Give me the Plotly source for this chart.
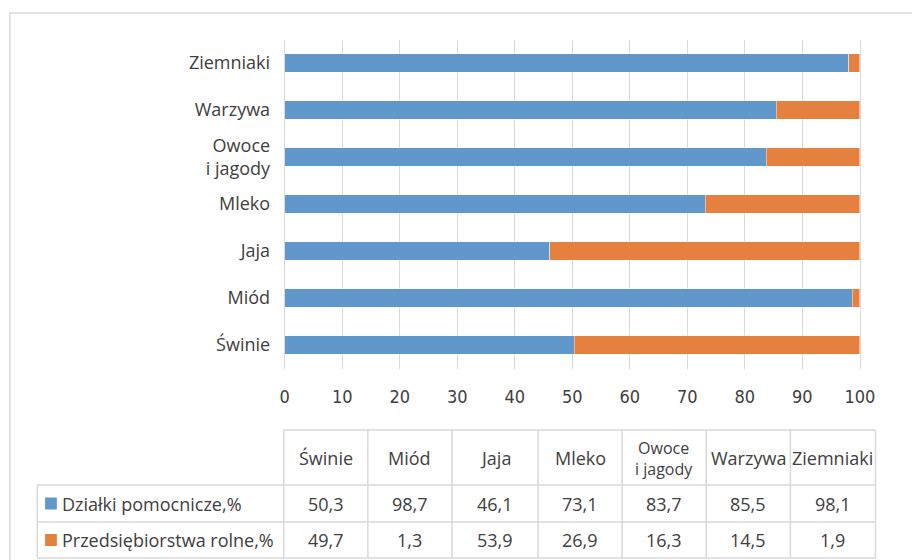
import plotly.graph_objects as go

# ---- data ----
categories = ["Świnie", "Miód", "Jaja", "Mleko", "Owoce i jagody", "Warzywa", "Ziemniaki"]
category_labels = ["Świnie", "Miód", "Jaja", "Mleko", "Owoce<br>i jagody", "Warzywa", "Ziemniaki"]
series_names = ["Działki pomocnicze,%", "Przedsiębiorstwa rolne,%"]
dzialki = [50.3, 98.7, 46.1, 73.1, 83.7, 85.5, 98.1]
przedsiebiorstwa = [49.7, 1.3, 53.9, 26.9, 16.3, 14.5, 1.9]
x_ticks = [0, 10, 20, 30, 40, 50, 60, 70, 80, 90, 100]

BLUE = "#6198CB"
ORANGE = "#E5803F"
GRID = "#d9d9d9"
TXT = "#404040"
FONT = "Open Sans"

W, H = 912, 560
def px(x):
    return x / W
def py(y):
    return 1 - y / H

fig = go.Figure()
for name, vals, col in [(series_names[0], dzialki, BLUE), (series_names[1], przedsiebiorstwa, ORANGE)]:
    fig.add_trace(go.Bar(
        y=categories, x=vals, name=name, orientation="h",
        marker=dict(color=col, line=dict(color="rgba(255,255,255,0.45)", width=1)),
        showlegend=False,
    ))

fig.update_layout(
    width=W, height=H,
    margin=dict(l=0, r=0, t=0, b=0),
    paper_bgcolor="white", plot_bgcolor="white",
    barmode="stack", bargap=0.6,
    font=dict(family=FONT, color=TXT, size=18),
    xaxis=dict(
        domain=[px(286), px(874)], range=[0, 100],
        tickvals=x_ticks, ticktext=[str(v) for v in x_ticks],
        showgrid=True, gridcolor=GRID, gridwidth=1,
        zeroline=False, showline=False, ticks="",
        tickfont=dict(family="Liberation Sans Narrow, DejaVu Sans Condensed, Open Sans", size=18, color=TXT),
        ticklabelstandoff=15,
    ),
    yaxis=dict(
        domain=[py(368.5), py(39.5)],
        categoryorder="array", categoryarray=categories,
        tickvals=categories, ticktext=category_labels,
        showgrid=False, zeroline=False,
        showline=True, mirror=True, linecolor=GRID, linewidth=1,
        ticks="", tickfont=dict(family=FONT, size=18, color=TXT),
        ticklabelstandoff=10,
    ),
)

shapes = []
# outer frame
shapes.append(dict(type="rect", xref="paper", yref="paper",
                   x0=px(5), x1=px(930), y0=py(13), y1=py(600),
                   line=dict(color=GRID, width=1.5), fillcolor="rgba(0,0,0,0)"))

# data table grid
col_edges = [285, 371, 457, 545, 631, 717, 803, 890]
row_top, row1, row2, row_bot = 430, 485, 522, 558
legend_left = 33

def hline(y, x0, x1):
    shapes.append(dict(type="line", xref="paper", yref="paper",
                       x0=px(x0), x1=px(x1), y0=py(y), y1=py(y),
                       line=dict(color=GRID, width=1.5)))

def vline(x, y0, y1):
    shapes.append(dict(type="line", xref="paper", yref="paper",
                       x0=px(x), x1=px(x), y0=py(y0), y1=py(y1),
                       line=dict(color=GRID, width=1.5)))

hline(row_top, col_edges[0], col_edges[-1])
for y in (row1, row2, row_bot):
    hline(y, legend_left, col_edges[-1])
for x in col_edges:
    vline(x, row_top, row_bot)
vline(legend_left, row1, row_bot)

annotations = []
centers = [(col_edges[i] + col_edges[i + 1]) / 2 for i in range(len(categories))]
# header
for c, lab in zip(centers, category_labels):
    two = "<br>" in lab
    annotations.append(dict(x=px(c), y=py(458), xref="paper", yref="paper",
                            text=lab, showarrow=False, xanchor="center", yanchor="middle",
                            font=dict(family=FONT, size=16 if two else 18, color=TXT)))

# rows
row_centers = [(row1 + row2) / 2, (row2 + row_bot) / 2]
for rc, name, vals, col in zip(row_centers, series_names, [dzialki, przedsiebiorstwa], [BLUE, ORANGE]):
    shapes.append(dict(type="rect", xref="paper", yref="paper",
                       x0=px(41), x1=px(53), y0=py(rc - 6), y1=py(rc + 6),
                       fillcolor=col, line=dict(width=0)))
    annotations.append(dict(x=px(56), y=py(rc), xref="paper", yref="paper",
                            text=name, showarrow=False, xanchor="left", yanchor="middle",
                            font=dict(family=FONT, size=18, color=TXT)))
    for c, v in zip(centers, vals):
        annotations.append(dict(x=px(c), y=py(rc), xref="paper", yref="paper",
                                text=f"{v:.1f}".replace(".", ","), showarrow=False,
                                xanchor="center", yanchor="middle",
                                font=dict(family=FONT, size=18, color=TXT)))

fig.update_layout(shapes=shapes, annotations=annotations)
fig.write_html("out.html",
               config={"displayModeBar": False},
               post_script="document.body.style.margin='0';document.body.style.overflow='hidden';")
